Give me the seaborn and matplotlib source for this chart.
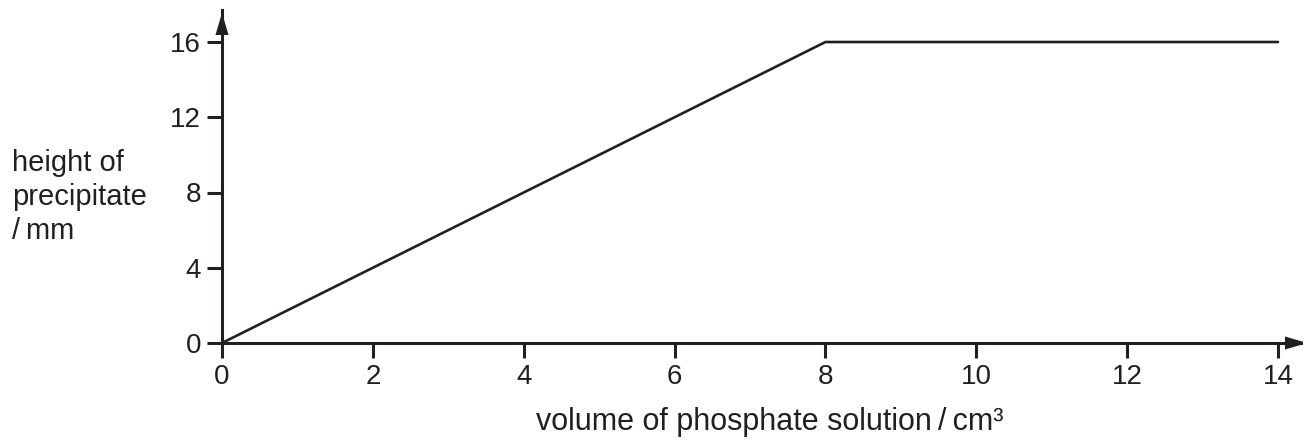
import matplotlib
matplotlib.use("Agg")
import matplotlib.pyplot as plt
import seaborn as sns
import pandas as pd

volume = [0, 8, 14]
height = [0, 16, 16]
x_ticks = [0, 2, 4, 6, 8, 10, 12, 14]
y_ticks = [0, 4, 8, 12, 16]

sns.set_theme(style="ticks")
plt.rcParams["font.family"] = ["Liberation Sans", "DejaVu Sans"]

W, H = 1303, 443
fig = plt.figure(figsize=(W / 100, H / 100), dpi=100)
x0, y0 = 222, 343
px_x = (1278 - 222) / 14.0
px_y = (343 - 42) / 16.0
xmax = (1310 - x0) / px_x
ymax = (y0 - 10) / px_y
ax = fig.add_axes([x0 / W, 1 - y0 / H, (1310 - x0) / W, (y0 - 10) / H])

df = pd.DataFrame({"volume": volume, "height": height})
sns.lineplot(data=df, x="volume", y="height", ax=ax, color="#231f20", lw=1.9)

ax.set_xlim(0, xmax)
ax.set_ylim(0, ymax)
ax.set_xticks(x_ticks)
ax.set_yticks(y_ticks)
ax.set_xlabel("")
ax.set_ylabel("")
for s in ["top", "right"]:
    ax.spines[s].set_visible(False)
for s in ["left", "bottom"]:
    ax.spines[s].set_linewidth(2.2)
    ax.spines[s].set_color("#231f20")
ax.tick_params(axis="both", direction="out", length=11, width=2.2, color="#231f20",
               labelsize=20, labelcolor="#231f20", pad=4)

# arrow heads
ax.annotate("", xy=(0, 1), xycoords=("data", "axes fraction"),
            xytext=(0, 0.9), textcoords=("data", "axes fraction"),
            arrowprops=dict(arrowstyle="-|>,head_length=16,head_width=4.7",
                            mutation_scale=1, color="#231f20", lw=0), annotation_clip=False)
ax.annotate("", xy=(1, 0), xycoords=("axes fraction", "data"),
            xytext=(0.95, 0), textcoords=("axes fraction", "data"),
            arrowprops=dict(arrowstyle="-|>,head_length=16,head_width=4.7",
                            mutation_scale=1, color="#231f20", lw=0), annotation_clip=False)

fig.text(12 / W, 1 - 197 / H, "height of\nprecipitate\n/\u2009mm", ha="left", va="center",
         fontsize=21, color="#231f20", linespacing=1.27)
fig.text(770 / W, 1 - 422 / H, "volume of phosphate solution\u2009/\u2009cm\u00b3", ha="center",
         va="center", fontsize=22, color="#231f20")

fig.savefig("out.png", dpi=100, facecolor="white")
